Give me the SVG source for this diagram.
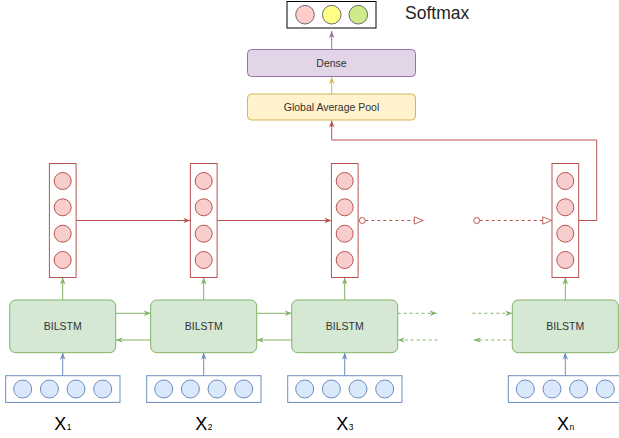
<svg xmlns="http://www.w3.org/2000/svg" width="619" height="438" viewBox="0 0 619 438">
  <style>
    text { font-family: "Liberation Sans", Arial, sans-serif; fill: #333333; }
    .lbl { font-size: 10.5px; text-anchor: middle; }
    .xl { font-size: 18px; fill: #000000; }
    .sub { font-size: 8.5px; }
    .vec { fill: #ffffff; stroke: #b85450; stroke-width: 1; }
    .cell { fill: #f8cecc; stroke: #b85450; stroke-width: 1; }
    .lstm { fill: #d5e8d4; stroke: #82b366; stroke-width: 1; }
    .inp { fill: #ffffff; stroke: #6c8ebf; stroke-width: 1; }
    .icell { fill: #dae8fc; stroke: #6c8ebf; stroke-width: 1; }
    .red { fill: none; stroke: #b85450; stroke-width: 1; }
    .grn { fill: none; stroke: #82b366; stroke-width: 1; }
    .blu { fill: none; stroke: #6c8ebf; stroke-width: 1; }
    .dash { stroke-dasharray: 3 3; }
  </style>
  <defs>
    <marker id="arRed" viewBox="0 0 10 10" refX="10" refY="5" markerWidth="7" markerHeight="7" markerUnits="userSpaceOnUse" orient="auto">
      <path d="M0,1 L10,5 L0,9 L3,5 z" fill="#b85450"/>
    </marker>
    <marker id="arGrn" viewBox="0 0 10 10" refX="10" refY="5" markerWidth="7" markerHeight="7" markerUnits="userSpaceOnUse" orient="auto">
      <path d="M0,1 L10,5 L0,9 L3,5 z" fill="#82b366"/>
    </marker>
    <marker id="arBlu" viewBox="0 0 10 10" refX="10" refY="5" markerWidth="7" markerHeight="7" markerUnits="userSpaceOnUse" orient="auto">
      <path d="M0,1 L10,5 L0,9 L3,5 z" fill="#6c8ebf"/>
    </marker>
    <marker id="arYel" viewBox="0 0 10 10" refX="10" refY="5" markerWidth="7" markerHeight="7" markerUnits="userSpaceOnUse" orient="auto">
      <path d="M0,1 L10,5 L0,9 L3,5 z" fill="#d6b656"/>
    </marker>
    <marker id="arPur" viewBox="0 0 10 10" refX="10" refY="5" markerWidth="7" markerHeight="7" markerUnits="userSpaceOnUse" orient="auto">
      <path d="M0,1 L10,5 L0,9 L3,5 z" fill="#9673a6"/>
    </marker>
    <marker id="openTri" viewBox="0 0 12 10" refX="11" refY="5" markerWidth="11" markerHeight="9" markerUnits="userSpaceOnUse" orient="auto">
      <path d="M1,1 L11,5 L1,9 z" fill="#ffffff" stroke="#b85450" stroke-width="1"/>
    </marker>
    <marker id="openDot" viewBox="0 0 8 8" refX="1" refY="4" markerWidth="8" markerHeight="8" markerUnits="userSpaceOnUse" orient="auto">
      <circle cx="4" cy="4" r="3" fill="#ffffff" stroke="#b85450" stroke-width="1"/>
    </marker>
    <g id="redVec">
      <rect class="vec" x="-13.3" y="163.5" width="26.7" height="114"/>
      <circle class="cell" cx="0" cy="181" r="8.5"/>
      <circle class="cell" cx="0" cy="207.3" r="8.5"/>
      <circle class="cell" cx="0" cy="233.7" r="8.5"/>
      <circle class="cell" cx="0" cy="260" r="8.5"/>
    </g>
    <g id="inVec">
      <rect class="inp" x="-57" y="375.7" width="114.3" height="26.7"/>
      <circle class="icell" cx="-40" cy="389" r="9"/>
      <circle class="icell" cx="-13.3" cy="389" r="9"/>
      <circle class="icell" cx="13.3" cy="389" r="9"/>
      <circle class="icell" cx="40" cy="389" r="9"/>
    </g>
  </defs>

  <!-- connectors -->
  <g id="edges">
    <line x1="331.7" y1="49.5" x2="331.7" y2="31" stroke="#9673a6" marker-end="url(#arPur)"/>
    <line x1="331.7" y1="94" x2="331.7" y2="77" stroke="#d6b656" marker-end="url(#arYel)"/>
    <path class="red" d="M578.3,220.5 H596.7 V140 H331.7 V120.5" marker-end="url(#arRed)"/>
    <line class="red" x1="76" y1="220.5" x2="190.3" y2="220.5" marker-end="url(#arRed)"/>
    <line class="red" x1="217" y1="220.5" x2="331.4" y2="220.5" marker-end="url(#arRed)"/>
    <line class="red dash" x1="359.3" y1="220.5" x2="423.3" y2="220.5" marker-start="url(#openDot)" marker-end="url(#openTri)"/>
    <line class="red dash" x1="473.7" y1="220.5" x2="551.7" y2="220.5" marker-start="url(#openDot)" marker-end="url(#openTri)"/>

    <line class="grn" x1="62.7" y1="300" x2="62.7" y2="277.5" marker-end="url(#arGrn)"/>
    <line class="grn" x1="203.7" y1="300" x2="203.7" y2="277.5" marker-end="url(#arGrn)"/>
    <line class="grn" x1="344.7" y1="300" x2="344.7" y2="277.5" marker-end="url(#arGrn)"/>
    <line class="grn" x1="565.3" y1="300" x2="565.3" y2="277.5" marker-end="url(#arGrn)"/>

    <line class="grn" x1="115.7" y1="313.3" x2="150.7" y2="313.3" marker-end="url(#arGrn)"/>
    <line class="grn" x1="150.7" y1="340" x2="115.7" y2="340" marker-end="url(#arGrn)"/>
    <line class="grn" x1="256.7" y1="313.3" x2="291.7" y2="313.3" marker-end="url(#arGrn)"/>
    <line class="grn" x1="291.7" y1="340" x2="256.7" y2="340" marker-end="url(#arGrn)"/>
    <line class="grn dash" x1="397.7" y1="313.3" x2="436.7" y2="313.3" marker-end="url(#arGrn)"/>
    <line class="grn dash" x1="437.7" y1="340" x2="397.7" y2="340" marker-end="url(#arGrn)"/>
    <line class="grn dash" x1="472.3" y1="313.3" x2="512.3" y2="313.3" marker-end="url(#arGrn)"/>
    <line class="grn dash" x1="512.3" y1="340" x2="474" y2="340" marker-end="url(#arGrn)"/>

    <line class="blu" x1="62.7" y1="375.7" x2="62.7" y2="352.7" marker-end="url(#arBlu)"/>
    <line class="blu" x1="203.7" y1="375.7" x2="203.7" y2="352.7" marker-end="url(#arBlu)"/>
    <line class="blu" x1="344.7" y1="375.7" x2="344.7" y2="352.7" marker-end="url(#arBlu)"/>
    <line class="blu" x1="565.3" y1="375.7" x2="565.3" y2="352.7" marker-end="url(#arBlu)"/>
  </g>

  <!-- output layer -->
  <g id="softmax">
    <rect x="287" y="1.5" width="89" height="26.5" fill="#ffffff" stroke="#000000"/>
    <circle cx="305" cy="14.7" r="9.3" fill="#ffcccc" stroke="#6b6b6b"/>
    <circle cx="331.7" cy="14.7" r="9.3" fill="#ffff88" stroke="#6b6b6b"/>
    <circle cx="358.3" cy="14.7" r="9.3" fill="#cdeb8b" stroke="#6b6b6b"/>
    <text x="405" y="19.2" style="font-size:17.5px; fill:#222222">Softmax</text>
  </g>
  <g id="dense">
    <rect x="247.5" y="49.5" width="168" height="27" rx="4" fill="#e1d5e7" stroke="#9673a6"/>
    <text class="lbl" x="331.5" y="66.7">Dense</text>
  </g>
  <g id="gap">
    <rect x="247.5" y="94" width="168" height="26" rx="4" fill="#fff2cc" stroke="#d6b656"/>
    <text class="lbl" x="331.5" y="110.8">Global Average Pool</text>
  </g>

  <!-- per-step hidden vectors -->
  <g id="h1"><use href="#redVec" x="62.7"/></g>
  <g id="h2"><use href="#redVec" x="203.7"/></g>
  <g id="h3"><use href="#redVec" x="344.7"/></g>
  <g id="hn"><use href="#redVec" x="565.3"/></g>

  <!-- BiLSTM cells -->
  <g id="lstm1">
    <rect class="lstm" x="9.7" y="300" width="106" height="52.7" rx="6"/>
    <text class="lbl" x="62.7" y="330.2">BILSTM</text>
  </g>
  <g id="lstm2">
    <rect class="lstm" x="150.7" y="300" width="106" height="52.7" rx="6"/>
    <text class="lbl" x="203.7" y="330.2">BILSTM</text>
  </g>
  <g id="lstm3">
    <rect class="lstm" x="291.7" y="300" width="106" height="52.7" rx="6"/>
    <text class="lbl" x="344.7" y="330.2">BILSTM</text>
  </g>
  <g id="lstmn">
    <rect class="lstm" x="512.3" y="300" width="106" height="52.7" rx="6"/>
    <text class="lbl" x="565.3" y="330.2">BILSTM</text>
  </g>

  <!-- input embeddings -->
  <g id="x1"><use href="#inVec" x="62.7"/><text class="xl" x="54.3" y="430">X<tspan class="sub" dx="0.5">1</tspan></text></g>
  <g id="x2"><use href="#inVec" x="203.7"/><text class="xl" x="195.3" y="430">X<tspan class="sub" dx="0.5">2</tspan></text></g>
  <g id="x3"><use href="#inVec" x="344.7"/><text class="xl" x="336.3" y="430">X<tspan class="sub" dx="0.5">3</tspan></text></g>
  <g id="xn"><use href="#inVec" x="565.3"/><text class="xl" x="556.9" y="430">X<tspan class="sub" dx="0.5">n</tspan></text></g>
</svg>
